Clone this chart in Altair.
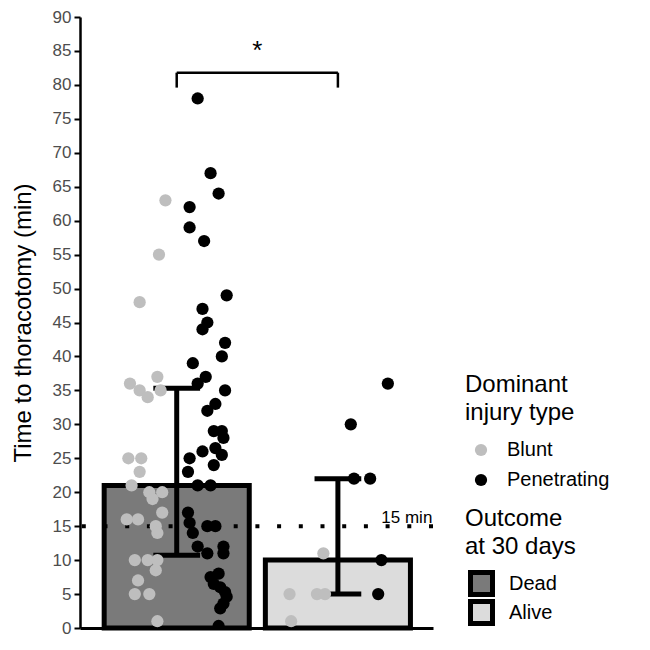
import altair as alt
import pandas as pd

FONT = "Liberation Sans"

# ---- summary data ----
outcomes = ["Dead", "Alive"]
outcome_pos = [1, 2]
bar_median = [21, 10]
err_low = [10.7, 5]
err_high = [35.3, 22]

# ---- individual patients (minutes) and horizontal jitter ----
dead_blunt_min = [63, 55, 48, 37, 36, 35, 35, 34, 25, 25, 23, 21, 20, 20, 19, 17, 16, 16,
                  15, 14, 10, 10, 10, 8.5, 7, 5, 5, 1]
dead_blunt_jit = [-0.07, -0.11, -0.23, -0.12, -0.29, -0.23, -0.10, -0.18, -0.30, -0.22, -0.23,
                  -0.28, -0.17, -0.09, -0.15, -0.09, -0.31, -0.24, -0.13, -0.12, -0.26, -0.18,
                  -0.12, -0.13, -0.24, -0.26, -0.17, -0.12]
dead_pen_min = [78, 67, 64, 62, 59, 57, 49, 47, 45, 44, 42, 40, 39, 37, 36, 35, 33, 32, 29, 29,
                28, 26, 26.5, 25.5, 25, 24, 23, 21, 21, 17, 15.5, 14, 15, 15, 12, 11, 12, 11,
                7.5, 8, 6.5, 6, 5.3, 4.6, 3.6, 2.9, 0.3]
dead_pen_jit = [0.13, 0.21, 0.26, 0.08, 0.08, 0.17, 0.31, 0.16, 0.19, 0.16, 0.30, 0.28, 0.10,
                0.18, 0.13, 0.30, 0.24, 0.19, 0.23, 0.28, 0.29, 0.16, 0.24, 0.28, 0.08, 0.23,
                0.07, 0.13, 0.21, 0.07, 0.08, 0.10, 0.19, 0.24, 0.13, 0.19, 0.29, 0.29, 0.21,
                0.26, 0.23, 0.27, 0.30, 0.31, 0.29, 0.27, 0.26]
alive_blunt_min = [11, 5, 5, 5, 1]
alive_blunt_jit = [-0.09, -0.30, -0.13, -0.08, -0.29]
alive_pen_min = [36, 30, 22, 22, 10, 5]
alive_pen_jit = [0.31, 0.08, 0.10, 0.20, 0.27, 0.25]

y_ticks = list(range(0, 91, 5))
threshold = [15]
threshold_label = ["15 min"]
sig_label = ["*"]
sig_level = [81.8]
sig_drop = [79.6]

# ---- tables ----
summary = pd.DataFrame({"outcome": outcomes, "pos": outcome_pos, "median": bar_median,
                        "lo": err_low, "hi": err_high})

rows = []
for outc, pos, inj, vals, jits in [
    ("Dead", 1, "Blunt", dead_blunt_min, dead_blunt_jit),
    ("Dead", 1, "Penetrating", dead_pen_min, dead_pen_jit),
    ("Alive", 2, "Blunt", alive_blunt_min, alive_blunt_jit),
    ("Alive", 2, "Penetrating", alive_pen_min, alive_pen_jit),
]:
    for v, j in zip(vals, jits):
        rows.append({"outcome": outc, "injury": inj, "minutes": v, "pos": pos + j})
points = pd.DataFrame(rows)

bracket = pd.DataFrame({
    "x": [1, 1, 2], "x2": [2, 1, 2],
    "y": [sig_level[0], sig_drop[0], sig_drop[0]], "y2": [sig_level[0]] * 3,
})

xscale = alt.Scale(domain=[0.4, 2.59], nice=False, zero=False)
yscale = alt.Scale(domain=[0, 90], nice=False)
xaxis = alt.Axis(labels=False, ticks=False, title=None, grid=False,
                 domainColor="black", domainWidth=3)
yaxis = alt.Axis(values=y_ticks, title="Time to thoracotomy (min)",
                 grid=False, domainColor="black", domainWidth=2.5, tickColor="black",
                 tickWidth=2, tickSize=6, labelPadding=3, labelFontSize=17,
                 labelOverlap=False, labelColor="#4d4d4d", labelFont=FONT,
                 titleFont=FONT, titleFontSize=24, titleFontWeight="normal",
                 titleColor="black", titlePadding=17)


def Y(field):
    return alt.Y(field, scale=yscale, axis=yaxis)


def X(field):
    return alt.X(field, scale=xscale, axis=xaxis)


bars = alt.Chart(summary).transform_calculate(
    xa="datum.pos - 0.45", xb="datum.pos + 0.45"
).mark_rect(stroke="black", strokeWidth=5).encode(
    x=X("xa:Q"),
    x2="xb:Q",
    y=Y("median:Q"),
    y2=alt.datum(0),
    fill=alt.Fill("outcome:N",
                  scale=alt.Scale(domain=["Dead", "Alive"], range=["#7a7a7a", "#dcdcdc"]),
                  legend=alt.Legend(title=["Outcome", "at 30 days"], orient="none",
                                    legendX=385, legendY=490, symbolType="square",
                                    symbolSize=484, symbolStrokeColor="black",
                                    symbolStrokeWidth=5, symbolOffset=3, labelOffset=14,
                                    clipHeight=27, rowPadding=2, titlePadding=11)),
)

ref = alt.Chart(pd.DataFrame({"t": threshold})).mark_rule(
    color="black", strokeWidth=4, strokeDash=[4, 17.7]
).encode(y=Y("t:Q"))

err_v = alt.Chart(summary).mark_rule(color="black", strokeWidth=5).encode(
    x=X("pos:Q"), y=Y("lo:Q"), y2="hi:Q")
cap_lo = alt.Chart(summary).transform_calculate(
    ca="datum.pos - 0.145", cb="datum.pos + 0.145"
).mark_rule(color="black", strokeWidth=5).encode(
    x=X("ca:Q"), x2="cb:Q", y=Y("lo:Q"))
cap_hi = alt.Chart(summary).transform_calculate(
    ca="datum.pos - 0.145", cb="datum.pos + 0.145"
).mark_rule(color="black", strokeWidth=5).encode(
    x=X("ca:Q"), x2="cb:Q", y=Y("hi:Q"))

pts = alt.Chart(points).mark_circle(size=150, opacity=1, clip=True).encode(
    x=X("pos:Q"),
    y=Y("minutes:Q"),
    color=alt.Color("injury:N",
                    scale=alt.Scale(domain=["Blunt", "Penetrating"],
                                    range=["#bebebe", "#000000"]),
                    legend=alt.Legend(title=["Dominant", "injury type"], orient="none",
                                      legendX=385, legendY=356, symbolType="circle",
                                      symbolSize=150, symbolOffset=6, labelOffset=16,
                                      rowPadding=10, titlePadding=15)),
)

br = alt.Chart(bracket).mark_rule(color="black", strokeWidth=2.5).encode(
    x=X("x:Q"), x2="x2:Q", y=Y("y:Q"), y2="y2:Q")

star = alt.Chart(pd.DataFrame({"s": sig_label, "x": [1.5], "y": [83.8]})).mark_text(
    fontSize=26, font=FONT, color="black", baseline="alphabetic", align="center"
).encode(x=X("x:Q"), y=Y("y:Q"), text="s:N")

lab = alt.Chart(pd.DataFrame({"s": threshold_label, "x": [2.586], "y": [15.5]})).mark_text(
    fontSize=17, font=FONT, color="black", baseline="alphabetic", align="right"
).encode(x=X("x:Q"), y=Y("y:Q"), text="s:N")

chart = alt.layer(bars, ref, err_v, cap_lo, cap_hi, pts, br, star, lab).resolve_scale(
    color="independent", fill="independent"
).properties(
    width=353, height=611,
    autosize=alt.AutoSizeParams(type="none"),
    padding={"left": 72, "top": 9, "right": 205, "bottom": 12},
).configure_view(stroke=None).configure_legend(
    titleFont=FONT, titleFontSize=24, titleFontWeight="normal", titleColor="black",
    titleLineHeight=28, labelFont=FONT, labelFontSize=20, labelColor="black",
    padding=0,
)

chart.save("out.html", embed_options={"renderer": "svg", "actions": False})
